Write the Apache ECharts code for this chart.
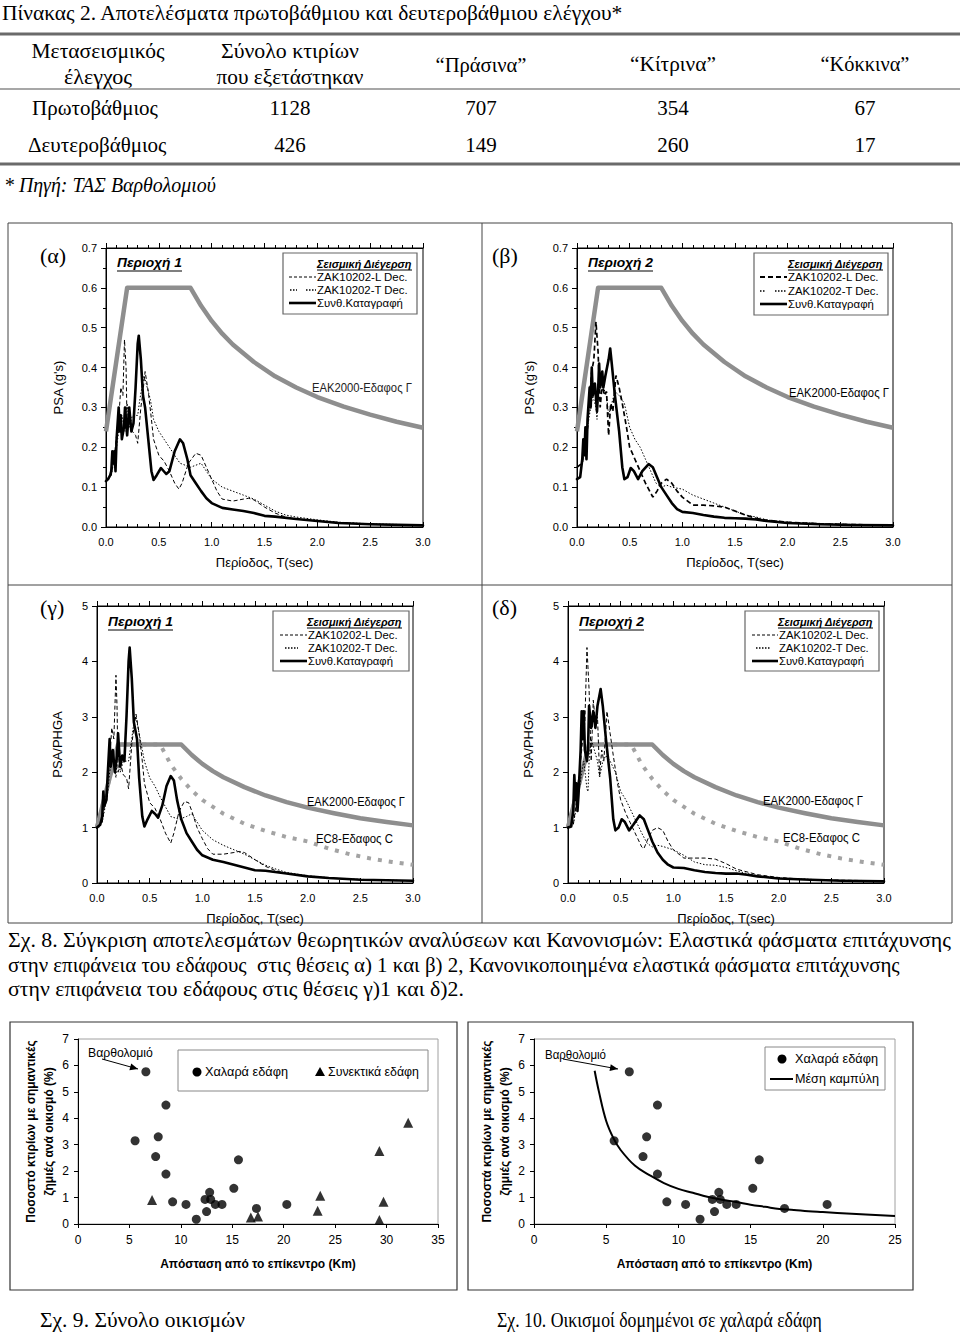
<!DOCTYPE html>
<html><head><meta charset="utf-8">
<script src="https://cdn.jsdelivr.net/npm/echarts/dist/echarts.min.js"></script>
<style>html,body{margin:0;padding:0;background:#fff}#c{width:960px;height:1336px}</style>
</head><body><div id="c"></div>
<script>
// ---------------- DATA ----------------
const tableHeader = ['Μετασεισμικός\nέλεγχος', 'Σύνολο κτιρίων\nπου εξετάστηκαν', '“Πράσινα”', '“Κίτρινα”', '“Κόκκινα”'];
const tableRowNames = ['Πρωτοβάθμιος', 'Δευτεροβάθμιος'];
const tableTotals = [1128, 426];
const tableGreen = [707, 149];
const tableYellow = [354, 260];
const tableRed = [67, 17];

const periodTickLabels = ['0.0','0.5','1.0','1.5','2.0','2.5','3.0'];

// EAK2000 soil Γ design spectrum (PSA, g) and normalised
const eakPSA = [[0,0.24],[0.2,0.6],[0.8,0.6],[0.9,0.555],[1.0,0.517],[1.1,0.485],[1.2,0.458],[1.4,0.414],[1.6,0.378],[1.8,0.35],[2.0,0.326],[2.25,0.302],[2.5,0.282],[2.75,0.264],[3.0,0.249]];
const eakNorm = [[0,1.0],[0.2,2.5],[0.8,2.5],[0.9,2.31],[1.0,2.15],[1.1,2.02],[1.2,1.91],[1.4,1.73],[1.6,1.58],[1.8,1.46],[2.0,1.36],[2.25,1.26],[2.5,1.17],[2.75,1.1],[3.0,1.04]];
const ec8Norm = [[0,1.0],[0.2,2.5],[0.6,2.5],[0.7,2.14],[0.8,1.88],[0.9,1.67],[1.0,1.5],[1.2,1.25],[1.4,1.07],[1.6,0.94],[1.8,0.83],[2.0,0.75],[2.2,0.62],[2.4,0.52],[2.6,0.44],[2.8,0.38],[3.0,0.33]];

// (α) Area 1, PSA
const alphaSynth = [[0,0.115],[0.02,0.12],[0.04,0.13],[0.05,0.14],[0.06,0.19],[0.07,0.16],[0.08,0.19],[0.09,0.14],[0.1,0.22],[0.12,0.30],[0.13,0.24],[0.14,0.28],[0.15,0.22],[0.17,0.25],[0.18,0.30],[0.2,0.23],[0.22,0.30],[0.24,0.24],[0.26,0.26],[0.28,0.35],[0.3,0.46],[0.31,0.48],[0.33,0.42],[0.35,0.33],[0.37,0.30],[0.4,0.22],[0.43,0.14],[0.45,0.118],[0.48,0.13],[0.52,0.148],[0.57,0.133],[0.6,0.14],[0.65,0.19],[0.7,0.22],[0.73,0.21],[0.77,0.17],[0.8,0.13],[0.85,0.11],[0.9,0.09],[0.95,0.072],[1.0,0.06],[1.1,0.048],[1.2,0.044],[1.3,0.04],[1.4,0.035],[1.5,0.028],[1.6,0.026],[1.8,0.02],[2.0,0.015],[2.2,0.01],[2.5,0.007],[3.0,0.004]];
const alphaL = [[0,0.115],[0.05,0.13],[0.08,0.18],[0.1,0.23],[0.12,0.27],[0.14,0.35],[0.16,0.33],[0.175,0.47],[0.19,0.40],[0.2,0.25],[0.22,0.27],[0.25,0.24],[0.28,0.23],[0.3,0.21],[0.33,0.30],[0.35,0.34],[0.37,0.39],[0.4,0.34],[0.43,0.27],[0.45,0.22],[0.5,0.18],[0.55,0.165],[0.6,0.14],[0.65,0.11],[0.69,0.095],[0.72,0.11],[0.78,0.16],[0.85,0.185],[0.9,0.18],[0.95,0.15],[1.0,0.12],[1.05,0.09],[1.1,0.07],[1.2,0.065],[1.3,0.07],[1.35,0.072],[1.4,0.068],[1.5,0.05],[1.6,0.035],[1.7,0.025],[1.8,0.02],[2.0,0.015],[2.3,0.01],[2.6,0.006],[3.0,0.005]];
const alphaT = [[0,0.12],[0.05,0.13],[0.1,0.2],[0.12,0.24],[0.15,0.28],[0.18,0.24],[0.2,0.31],[0.22,0.25],[0.25,0.28],[0.3,0.28],[0.32,0.32],[0.34,0.35],[0.36,0.38],[0.38,0.36],[0.42,0.32],[0.45,0.27],[0.5,0.24],[0.55,0.22],[0.6,0.2],[0.7,0.16],[0.8,0.15],[0.85,0.155],[0.9,0.16],[0.95,0.14],[1.0,0.12],[1.1,0.1],[1.2,0.09],[1.3,0.08],[1.4,0.07],[1.5,0.055],[1.6,0.04],[1.7,0.03],[1.8,0.025],[2.0,0.018],[2.2,0.012],[2.5,0.008],[3.0,0.005]];

// (β) Area 2, PSA
const betaSynth = [[0,0.12],[0.03,0.125],[0.05,0.17],[0.06,0.22],[0.07,0.18],[0.08,0.25],[0.09,0.17],[0.1,0.27],[0.12,0.35],[0.13,0.30],[0.14,0.40],[0.15,0.33],[0.17,0.36],[0.19,0.29],[0.2,0.34],[0.21,0.41],[0.22,0.35],[0.24,0.39],[0.25,0.35],[0.27,0.38],[0.3,0.42],[0.315,0.448],[0.33,0.41],[0.36,0.33],[0.4,0.24],[0.43,0.15],[0.45,0.12],[0.48,0.125],[0.51,0.148],[0.54,0.14],[0.58,0.12],[0.62,0.14],[0.68,0.158],[0.72,0.15],[0.76,0.125],[0.8,0.1],[0.85,0.08],[0.9,0.06],[0.95,0.045],[1.0,0.038],[1.1,0.035],[1.2,0.03],[1.3,0.026],[1.4,0.023],[1.5,0.022],[1.6,0.021],[1.7,0.019],[1.8,0.015],[2.0,0.01],[2.3,0.007],[2.6,0.005],[3.0,0.004]];
const betaL = [[0,0.15],[0.05,0.16],[0.08,0.22],[0.1,0.25],[0.12,0.33],[0.14,0.39],[0.16,0.42],[0.18,0.515],[0.2,0.44],[0.22,0.3],[0.24,0.36],[0.26,0.33],[0.28,0.34],[0.3,0.23],[0.32,0.31],[0.34,0.29],[0.37,0.38],[0.4,0.35],[0.43,0.31],[0.47,0.25],[0.5,0.2],[0.55,0.17],[0.6,0.14],[0.65,0.11],[0.7,0.085],[0.72,0.075],[0.76,0.09],[0.8,0.11],[0.85,0.12],[0.9,0.11],[0.95,0.09],[1.0,0.075],[1.1,0.055],[1.2,0.055],[1.3,0.053],[1.4,0.05],[1.5,0.04],[1.6,0.03],[1.7,0.022],[1.8,0.017],[2.0,0.012],[2.3,0.008],[2.6,0.006],[3.0,0.005]];
const betaT = [[0,0.15],[0.05,0.16],[0.1,0.25],[0.13,0.3],[0.15,0.33],[0.18,0.3],[0.19,0.27],[0.2,0.33],[0.22,0.38],[0.25,0.35],[0.28,0.33],[0.3,0.28],[0.33,0.31],[0.36,0.34],[0.4,0.33],[0.45,0.31],[0.5,0.25],[0.55,0.22],[0.6,0.2],[0.65,0.17],[0.7,0.14],[0.75,0.11],[0.8,0.1],[0.85,0.105],[0.9,0.1],[1.0,0.095],[1.1,0.08],[1.2,0.07],[1.3,0.06],[1.4,0.05],[1.5,0.04],[1.6,0.03],[1.7,0.025],[1.8,0.018],[2.0,0.012],[2.5,0.007],[3.0,0.005]];

// (γ) Area 1, PSA/PHGA
const gammaSynth = [[0,1.0],[0.03,1.05],[0.05,1.2],[0.06,1.65],[0.07,1.4],[0.09,1.5],[0.1,1.9],[0.12,2.6],[0.13,2.1],[0.15,2.4],[0.17,2.0],[0.19,2.3],[0.2,2.7],[0.22,2.1],[0.24,2.3],[0.26,2.2],[0.28,3.0],[0.3,4.0],[0.31,4.25],[0.33,3.7],[0.35,2.9],[0.38,2.6],[0.4,1.9],[0.43,1.2],[0.45,1.02],[0.48,1.15],[0.52,1.3],[0.55,1.25],[0.58,1.18],[0.62,1.4],[0.66,1.75],[0.7,1.93],[0.73,1.85],[0.76,1.5],[0.8,1.15],[0.85,0.9],[0.9,0.75],[0.95,0.6],[1.0,0.5],[1.1,0.42],[1.2,0.38],[1.3,0.33],[1.4,0.28],[1.5,0.23],[1.6,0.22],[1.8,0.17],[2.0,0.12],[2.2,0.09],[2.5,0.06],[3.0,0.04]];
const gammaL = [[0,1.0],[0.05,1.1],[0.08,1.5],[0.1,1.8],[0.12,2.2],[0.14,2.8],[0.16,2.6],[0.18,3.75],[0.19,3.2],[0.2,2.0],[0.22,2.2],[0.25,1.95],[0.28,1.9],[0.3,1.7],[0.33,2.5],[0.35,2.8],[0.37,3.05],[0.4,2.7],[0.43,2.2],[0.45,1.8],[0.5,1.45],[0.55,1.35],[0.6,1.15],[0.65,0.9],[0.7,0.72],[0.73,0.9],[0.78,1.3],[0.83,1.47],[0.87,1.45],[0.9,1.3],[0.95,1.0],[1.0,0.8],[1.05,0.62],[1.1,0.52],[1.2,0.52],[1.3,0.55],[1.35,0.57],[1.4,0.55],[1.5,0.42],[1.6,0.3],[1.7,0.22],[1.8,0.17],[2.0,0.12],[2.3,0.08],[2.6,0.05],[3.0,0.04]];
const gammaT = [[0,1.0],[0.05,1.1],[0.1,1.6],[0.12,2.0],[0.15,2.3],[0.18,1.9],[0.2,2.5],[0.22,2.0],[0.25,2.2],[0.3,2.2],[0.33,2.6],[0.35,2.9],[0.37,3.0],[0.4,2.7],[0.45,2.2],[0.5,1.9],[0.55,1.75],[0.6,1.55],[0.7,1.2],[0.78,1.15],[0.85,1.2],[0.9,1.25],[0.95,1.1],[1.0,0.95],[1.1,0.78],[1.2,0.68],[1.3,0.6],[1.4,0.52],[1.5,0.42],[1.6,0.32],[1.7,0.25],[1.8,0.19],[2.0,0.13],[2.3,0.08],[2.6,0.06],[3.0,0.04]];

// (δ) Area 2, PSA/PHGA
const deltaSynth = [[0,1.0],[0.03,1.02],[0.05,1.3],[0.06,1.95],[0.07,1.5],[0.08,1.8],[0.09,1.3],[0.1,1.6],[0.12,2.4],[0.13,3.1],[0.14,2.6],[0.15,3.1],[0.16,2.4],[0.18,2.2],[0.19,2.4],[0.2,3.2],[0.22,2.8],[0.24,3.1],[0.26,2.8],[0.28,3.2],[0.31,3.5],[0.33,3.2],[0.36,2.6],[0.4,1.9],[0.43,1.15],[0.45,0.95],[0.48,1.0],[0.51,1.15],[0.54,1.1],[0.58,0.95],[0.62,1.05],[0.68,1.22],[0.72,1.15],[0.76,0.95],[0.8,0.75],[0.85,0.55],[0.9,0.42],[0.95,0.33],[1.0,0.28],[1.1,0.27],[1.2,0.23],[1.3,0.2],[1.4,0.18],[1.5,0.17],[1.6,0.17],[1.7,0.15],[1.8,0.12],[2.0,0.08],[2.3,0.06],[2.6,0.04],[3.0,0.03]];
const deltaL = [[0,1.0],[0.05,1.05],[0.08,1.45],[0.1,1.7],[0.12,2.2],[0.14,2.6],[0.16,2.9],[0.18,4.25],[0.2,3.5],[0.22,2.2],[0.24,3.3],[0.26,2.9],[0.28,3.0],[0.3,1.95],[0.32,2.4],[0.34,2.2],[0.37,3.1],[0.4,2.7],[0.43,2.3],[0.47,1.8],[0.5,1.5],[0.55,1.25],[0.6,1.05],[0.65,0.85],[0.7,0.65],[0.72,0.62],[0.76,0.8],[0.8,0.95],[0.85,1.0],[0.9,0.95],[0.95,0.75],[1.0,0.6],[1.1,0.45],[1.2,0.45],[1.3,0.45],[1.4,0.43],[1.5,0.35],[1.6,0.25],[1.7,0.2],[1.8,0.15],[2.0,0.1],[2.3,0.06],[2.6,0.05],[3.0,0.04]];
const deltaT = [[0,1.0],[0.05,1.05],[0.1,1.6],[0.13,2.0],[0.15,2.2],[0.18,1.7],[0.19,1.65],[0.2,2.2],[0.22,2.6],[0.25,2.4],[0.28,2.2],[0.3,1.9],[0.33,2.2],[0.36,2.3],[0.4,2.2],[0.45,2.0],[0.5,1.65],[0.55,1.5],[0.6,1.3],[0.65,1.1],[0.7,0.9],[0.75,0.72],[0.8,0.65],[0.85,0.68],[0.9,0.66],[1.0,0.6],[1.1,0.5],[1.2,0.38],[1.3,0.33],[1.4,0.32],[1.5,0.28],[1.6,0.22],[1.7,0.17],[1.8,0.13],[2.0,0.09],[2.5,0.05],[3.0,0.03]];

// Σχ. 9 / 10: damage vs epicentral distance
const looseDist = [6.6,8.55,5.55,7.8,7.55,8.55,9.2,10.5,11.5,12.35,12.8,12.9,12.5,13.35,14.0,15.15,15.6,17.35,20.3];
const looseDamage = [5.76,4.5,3.15,3.3,2.55,1.89,0.84,0.74,0.18,0.93,1.2,0.93,0.47,0.74,0.74,1.35,2.43,0.59,0.74];
const cohesiveDist = [7.2,16.8,17.5,23.3,23.55,29.3,29.7,29.3,32.1];
const cohesiveDamage = [0.91,0.25,0.28,0.5,1.07,2.76,0.84,0.15,3.83];
const meanCurveDist = [4.2,4.5,5,5.5,6,7,8,9,10,11,12,13,14,15,16,17,18,19,20,22,25];
const meanCurveDamage = [5.8,5.0,3.9,3.25,2.8,2.2,1.85,1.55,1.33,1.18,1.03,0.92,0.83,0.73,0.65,0.57,0.53,0.48,0.45,0.39,0.30];

// ---------------- CHART ----------------
const SANS = '"Liberation Sans", Arial, sans-serif';
const SERIF = '"Liberation Serif", "Times New Roman", serif';
const mctx = document.createElement('canvas').getContext('2d');
function fitText(text, x, y, font, width, extra) {
  mctx.font = font;
  const w = mctx.measureText(text).width;
  const s = width ? width / w : 1;
  return Object.assign({type:'text', x:x, y:y, scaleX:s, silent:true, z:20,
    style:{text:text, font:font, fill:'#000', align:'left', verticalAlign:'middle'}}, extra||{});
}
function hline(x1, x2, y, w, c, dash) {
  return {type:'line', silent:true, z:20, shape:{x1:x1, y1:y, x2:x2, y2:y}, style:{stroke:c||'#000', lineWidth:w||1, lineDash:dash||null}};
}
function vline(x, y1, y2, w, c) {
  return {type:'line', silent:true, z:20, shape:{x1:x, y1:y1, x2:x, y2:y2}, style:{stroke:c||'#000', lineWidth:w||1}};
}
function box(x, y, w, h, c, lw) {
  return {type:'rect', silent:true, z:19, shape:{x:x, y:y, width:w, height:h}, style:{fill:'#fff', stroke:c||'#555', lineWidth:lw||1}};
}

const grids = [
  {left:106, top:248, width:317, height:279},
  {left:577, top:248, width:316, height:279},
  {left:97,  top:606, width:316, height:277},
  {left:568, top:606, width:316, height:277},
  {left:78,  top:1039, width:360, height:185},
  {left:534, top:1039, width:361, height:185}
].map(g => Object.assign({show:true, borderColor:'#000', borderWidth:1, backgroundColor:'transparent', containLabel:false}, g));
grids[4].borderColor = '#a0a0a0';
grids[5].borderColor = '#a0a0a0';

const xAxes = [], yAxes = [];
for (let i = 0; i < 4; i++) {
  xAxes.push({gridIndex:i, type:'value', min:0, max:3, interval:0.5, position:'bottom',
    axisLine:{onZero:false, lineStyle:{color:'#000', width:1}},
    axisTick:{show:true, inside:true, length:5, lineStyle:{color:'#000'}},
    minorTick:{show:true, splitNumber:5, length:3, lineStyle:{color:'#000'}},
    axisLabel:{color:'#000', fontFamily:SANS, fontSize:11, margin:9, formatter:v => periodTickLabels[Math.round(v*2)]},
    splitLine:{show:false},
    name:'Περίοδος, T(sec)', nameLocation:'middle', nameGap:29,
    nameTextStyle:{color:'#000', fontFamily:SANS, fontSize:13}});
  xAxes.push({gridIndex:i, type:'value', min:0, max:3, interval:0.5, position:'top',
    axisLine:{onZero:false, lineStyle:{color:'#000', width:1}},
    axisTick:{show:true, inside:false, length:5, lineStyle:{color:'#000'}},
    minorTick:{show:true, splitNumber:5, length:3, lineStyle:{color:'#000'}},
    axisLabel:{show:false}, splitLine:{show:false}});
}
yAxes.push({gridIndex:0, type:'value', min:0, max:0.7, interval:0.1,
  axisLine:{show:true, lineStyle:{color:'#000'}}, axisTick:{show:true, length:5, lineStyle:{color:'#000'}},
  minorTick:{show:true, splitNumber:2, length:3, lineStyle:{color:'#000'}},
  axisLabel:{color:'#000', fontFamily:SANS, fontSize:11, margin:9, formatter:v => v.toFixed(1)}, splitLine:{show:false},
  name:"PSA (g's)", nameLocation:'middle', nameGap:41, nameTextStyle:{color:'#000', fontFamily:SANS, fontSize:13}});
yAxes.push(Object.assign({}, yAxes[0], {gridIndex:1}));
yAxes.push({gridIndex:2, type:'value', min:0, max:5, interval:1,
  axisLine:{show:true, lineStyle:{color:'#000'}}, axisTick:{show:true, length:5, lineStyle:{color:'#000'}},
  axisLabel:{color:'#000', fontFamily:SANS, fontSize:11, margin:9}, splitLine:{show:false},
  name:'PSA/PHGA', nameLocation:'middle', nameGap:33, nameTextStyle:{color:'#000', fontFamily:SANS, fontSize:13}});
yAxes.push(Object.assign({}, yAxes[2], {gridIndex:3}));

function scatterX(gi, max) {
  return {gridIndex:gi, type:'value', min:0, max:max, interval:5,
    axisLine:{onZero:false, lineStyle:{color:'#000'}}, axisTick:{show:true, length:4, lineStyle:{color:'#000'}},
    axisLabel:{color:'#000', fontFamily:SANS, fontSize:12, margin:10}, splitLine:{show:false},
    name:'Απόσταση από το επίκεντρο (Km)', nameLocation:'middle', nameGap:34,
    nameTextStyle:{color:'#000', fontFamily:SANS, fontSize:12, fontWeight:'bold'}};
}
function scatterY(gi, title, gap) {
  return {gridIndex:gi, type:'value', min:0, max:7, interval:1,
    axisLine:{show:true, lineStyle:{color:'#000'}}, axisTick:{show:true, length:4, lineStyle:{color:'#000'}},
    axisLabel:{color:'#000', fontFamily:SANS, fontSize:12, margin:9}, splitLine:{show:false},
    name:title, nameLocation:'middle', nameGap:gap,
    nameTextStyle:{color:'#000', fontFamily:SANS, fontSize:12, fontWeight:'bold', lineHeight:18}};
}
xAxes.push(scatterX(4, 35)); // index 8
xAxes.push(scatterX(5, 25)); // index 9
yAxes.push(scatterY(4, 'Ποσοστό κτιρίων με σημαντικές\nζημιές ανά οικισμό (%)', 17));
yAxes.push(scatterY(5, 'Ποσοστά κτιρίων με σημαντικές\nζημιές ανά οικισμό (%)', 18));

function ln(data, xi, yi, style, z) {
  return {type:'line', xAxisIndex:xi, yAxisIndex:yi, data:data, symbol:'none', smooth:false,
    lineStyle:style, silent:true, z:z||2, animation:false};
}
const GRAY = '#8e8e8e';
const sSolid = {color:'#000', width:2.6, cap:'round', join:'round'};
const sDashThin = {color:'#000', width:1, type:[4,2.5]};
const sDashBold = {color:'#000', width:1.7, type:[5,3]};
const sDot = {color:'#000', width:1, type:[1.5,1.8]};
const sEak = {color:GRAY, width:4.5, join:'round'};
const sEc8 = {color:'#a3a3a3', width:4, type:[4,7], cap:'butt'};

const series = [
  ln(eakPSA, 0, 0, sEak, 1), ln(alphaL, 0, 0, sDashThin), ln(alphaT, 0, 0, sDot), ln(alphaSynth, 0, 0, sSolid, 3),
  ln(eakPSA, 2, 1, sEak, 1), ln(betaL, 2, 1, sDashBold), ln(betaT, 2, 1, sDot), ln(betaSynth, 2, 1, sSolid, 3),
  ln(ec8Norm, 4, 2, sEc8, 1), ln(eakNorm, 4, 2, sEak, 1), ln(gammaL, 4, 2, sDashThin), ln(gammaT, 4, 2, sDot), ln(gammaSynth, 4, 2, sSolid, 3),
  ln(ec8Norm, 6, 3, sEc8, 1), ln(eakNorm, 6, 3, sEak, 1), ln(deltaL, 6, 3, sDashThin), ln(deltaT, 6, 3, sDot), ln(deltaSynth, 6, 3, sSolid, 3),
  {type:'scatter', xAxisIndex:8, yAxisIndex:4, data:looseDist.map((d,i)=>[d, looseDamage[i]]), symbol:'circle', symbolSize:9, itemStyle:{color:'#000'}, silent:true, animation:false},
  {type:'scatter', xAxisIndex:8, yAxisIndex:4, data:cohesiveDist.map((d,i)=>[d, cohesiveDamage[i]]), symbol:'triangle', symbolSize:10, itemStyle:{color:'#000'}, silent:true, animation:false},
  {type:'line', xAxisIndex:9, yAxisIndex:5, data:meanCurveDist.map((d,i)=>[d, meanCurveDamage[i]]), symbol:'none', smooth:0.4, lineStyle:{color:'#000', width:2}, silent:true, animation:false},
  {type:'scatter', xAxisIndex:9, yAxisIndex:5, data:looseDist.map((d,i)=>[d, looseDamage[i]]), symbol:'circle', symbolSize:9, itemStyle:{color:'#000'}, silent:true, animation:false, z:4}
];

// ---------------- GRAPHIC (table, captions, legends, labels) ----------------
const G = [];
// Frames
G.push({type:'rect', silent:true, z:0, shape:{x:8, y:223, width:944, height:700}, style:{fill:'none', stroke:'#444', lineWidth:1}});
G.push(vline(482, 223, 923, 1, '#444'));
G.push(hline(8, 952, 585, 1, '#444'));
G.push({type:'rect', silent:true, z:0, shape:{x:10, y:1022, width:447, height:268}, style:{fill:'none', stroke:'#333', lineWidth:1.2}});
G.push({type:'rect', silent:true, z:0, shape:{x:468, y:1022, width:445, height:268}, style:{fill:'none', stroke:'#333', lineWidth:1.2}});

// Table
const TF = '21px ' + SERIF;
G.push(fitText('Πίνακας 2. Αποτελέσματα πρωτοβάθμιου και δευτεροβάθμιου ελέγχου*', 2, 13, TF, 622));
G.push(hline(0, 960, 34, 3.2, '#6a6a6a'));
G.push(hline(0, 960, 89, 1.5, '#8a8a8a'));
G.push(hline(0, 960, 164, 3.2, '#6a6a6a'));
const colCenters = [98, 290, 481, 673, 865];
const hdrWidths = [[133, 68], [138, 147], 91, 86, 89];
tableHeader.forEach((h, i) => {
  const parts = h.split('\n');
  if (parts.length === 2) {
    G.push(fitText(parts[0], colCenters[i] - hdrWidths[i][0]/2, 51, TF, hdrWidths[i][0]));
    G.push(fitText(parts[1], colCenters[i] - hdrWidths[i][1]/2, 77, TF, hdrWidths[i][1]));
  } else {
    G.push(fitText(parts[0], colCenters[i] - hdrWidths[i]/2, 64, TF, hdrWidths[i]));
  }
});
const rowY = [108, 145];
const rowNameW = [132, 140];
tableRowNames.forEach((n, r) => {
  G.push(fitText(n, colCenters[0] - rowNameW[r]/2, rowY[r], TF));
  [tableTotals, tableGreen, tableYellow, tableRed].forEach((arr, c) => {
    G.push(fitText(String(arr[r]), colCenters[c+1], rowY[r], TF, 0, {style:{text:String(arr[r]), font:TF, fill:'#000', align:'center', verticalAlign:'middle'}}));
  });
});
G.push(fitText('* Πηγή: ΤΑΣ Βαρθολομιού', 4, 185, 'italic ' + TF, 212));

// Panel labels
const PL = '22px ' + SERIF;
G.push(fitText('(α)', 40, 255, PL));
G.push(fitText('(β)', 492, 255, PL));
G.push(fitText('(γ)', 40, 607, PL));
G.push(fitText('(δ)', 492, 607, PL));

// Area titles
const AF = 'italic bold 13px ' + SANS;
function area(text, x, y) { G.push(fitText(text, x, y, AF, 65)); G.push(hline(x, x+65, y+8, 1.2)); }
area('Περιοχή 1', 117, 263); area('Περιοχή 2', 588, 263);
area('Περιοχή 1', 108, 622); area('Περιοχή 2', 579, 622);

// Legends for spectra
const LF = '11.5px ' + SANS;
const LT = 'italic bold 11px ' + SANS;
function specLegend(bx, by, bw, bh, tx, tw, sx1, sx2, iy, lStyle, tStyle) {
  G.push(box(bx, by, bw, bh, '#666', 1.2));
  G.push(fitText('Σεισμική Διέγερση', tx+tw-95, by+11, LT, 95));
  G.push(hline(tx+tw-95, tx+tw, by+17, 1));
  G.push(fitText('ZAK10202-L Dec.', tx, iy[0], LF, tw-4));
  G.push(fitText('ZAK10202-T Dec.', tx, iy[1], LF, tw-4));
  G.push(fitText('Συνθ.Καταγραφή', tx, iy[2], LF, tw-9));
  G.push(hline(sx1, sx2, iy[0], lStyle.w, '#000', lStyle.d));
  tStyle.segs.forEach(s => G.push(hline(s[0], s[1], iy[1], 1.3, '#000', [1.5,1.5])));
  G.push(hline(sx1, sx2, iy[2], 2.6, '#000'));
}
specLegend(283, 253, 134, 61, 317, 95, 289, 316, [277, 290, 303], {w:1, d:[3,2]}, {segs:[[290,297],[306,316]]});
specLegend(754, 253, 134, 62, 788, 95, 760, 787, [277, 291, 304], {w:1.8, d:[5,3]}, {segs:[[760,766],[775,787]]});
specLegend(273, 611, 136, 60, 308, 94, 280, 307, [635, 648, 661], {w:1, d:[3,2]}, {segs:[[285,298]]});
specLegend(745, 611, 134, 60, 779, 94, 752, 778, [635, 648, 661], {w:1, d:[3,2]}, {segs:[[756,770]]});

// Code spectra labels
const CF = '12px ' + SANS;
G.push(fitText('ΕΑΚ2000-Εδαφος Γ', 312, 387, CF, 100, {style:{text:'ΕΑΚ2000-Εδαφος Γ', font:CF, fill:'#222', align:'left', verticalAlign:'middle'}}));
G.push(fitText('ΕΑΚ2000-Εδαφος Γ', 789, 392, CF, 100));
G.push(fitText('ΕΑΚ2000-Εδαφος Γ', 307, 802, CF, 98));
G.push(fitText('ΕΑΚ2000-Εδαφος Γ', 763, 800, CF, 100));
G.push(fitText('EC8-Εδαφος C', 316, 838, CF, 77));
G.push(fitText('EC8-Εδαφος C', 783, 837, CF, 77));

// Scatter legends
const SF = '12.5px ' + SANS;
G.push(box(178, 1050, 250, 41, '#888', 1));
G.push({type:'circle', silent:true, z:21, shape:{cx:197, cy:1072, r:4.5}, style:{fill:'#000'}});
G.push(fitText('Χαλαρά εδάφη', 205, 1072, SF, 83));
G.push({type:'polygon', silent:true, z:21, shape:{points:[[320,1067],[325,1076],[315,1076]]}, style:{fill:'#000'}});
G.push(fitText('Συνεκτικά εδάφη', 328, 1072, SF, 91));
G.push(box(765, 1047, 120, 43, '#888', 1));
G.push({type:'circle', silent:true, z:21, shape:{cx:782, cy:1059, r:4.5}, style:{fill:'#000'}});
G.push(fitText('Χαλαρά εδάφη', 795, 1059, SF, 83));
G.push(hline(770, 793, 1079, 2));
G.push(fitText('Μέση καμπύλη', 795, 1079, SF, 84));

// Βαρθολομιό annotations
function arrow(x1, y1, x2, y2) {
  G.push({type:'line', silent:true, z:21, shape:{x1:x1, y1:y1, x2:x2, y2:y2}, style:{stroke:'#000', lineWidth:1}});
  const a = Math.atan2(y2-y1, x2-x1), L = 8, W = 3.5;
  const bx = x2 - L*Math.cos(a), by = y2 - L*Math.sin(a);
  G.push({type:'polygon', silent:true, z:21, shape:{points:[[x2,y2],[bx - W*Math.sin(a), by + W*Math.cos(a)],[bx + W*Math.sin(a), by - W*Math.cos(a)]]}, style:{fill:'#000'}});
}
G.push(fitText('Βαρθολομιό', 88, 1053, '12px ' + SANS, 65));
arrow(102, 1059, 138, 1069);
G.push(fitText('Βαρθολομιό', 545, 1054, '12px ' + SANS, 61));
arrow(563, 1059, 618, 1069);

// Captions
const CapF = '21px ' + SERIF;
G.push(fitText('Σχ. 8. Σύγκριση αποτελεσμάτων θεωρητικών αναλύσεων και Κανονισμών: Ελαστικά φάσματα επιτάχυνσης', 8, 940, CapF, 944));
G.push(fitText('στην επιφάνεια του εδάφους  στις θέσεις α) 1 και β) 2, Κανονικοποιημένα ελαστικά φάσματα επιτάχυνσης', 8, 965, CapF, 892));
G.push(fitText('στην επιφάνεια του εδάφους στις θέσεις γ)1 και δ)2.', 8, 989, CapF, 456));
G.push(fitText('Σχ. 9. Σύνολο οικισμών', 40, 1320, CapF, 205));
G.push(fitText('Σχ. 10. Οικισμοί δομημένοι σε χαλαρά εδάφη', 497, 1320, CapF, 325));

const chart = echarts.init(document.getElementById('c'), null, {renderer:'svg', width:960, height:1336});
chart.setOption({
  animation:false,
  backgroundColor:'#fff',
  textStyle:{fontFamily:SANS},
  grid:grids, xAxis:xAxes, yAxis:yAxes, series:series, graphic:G
});
</script></body></html>
